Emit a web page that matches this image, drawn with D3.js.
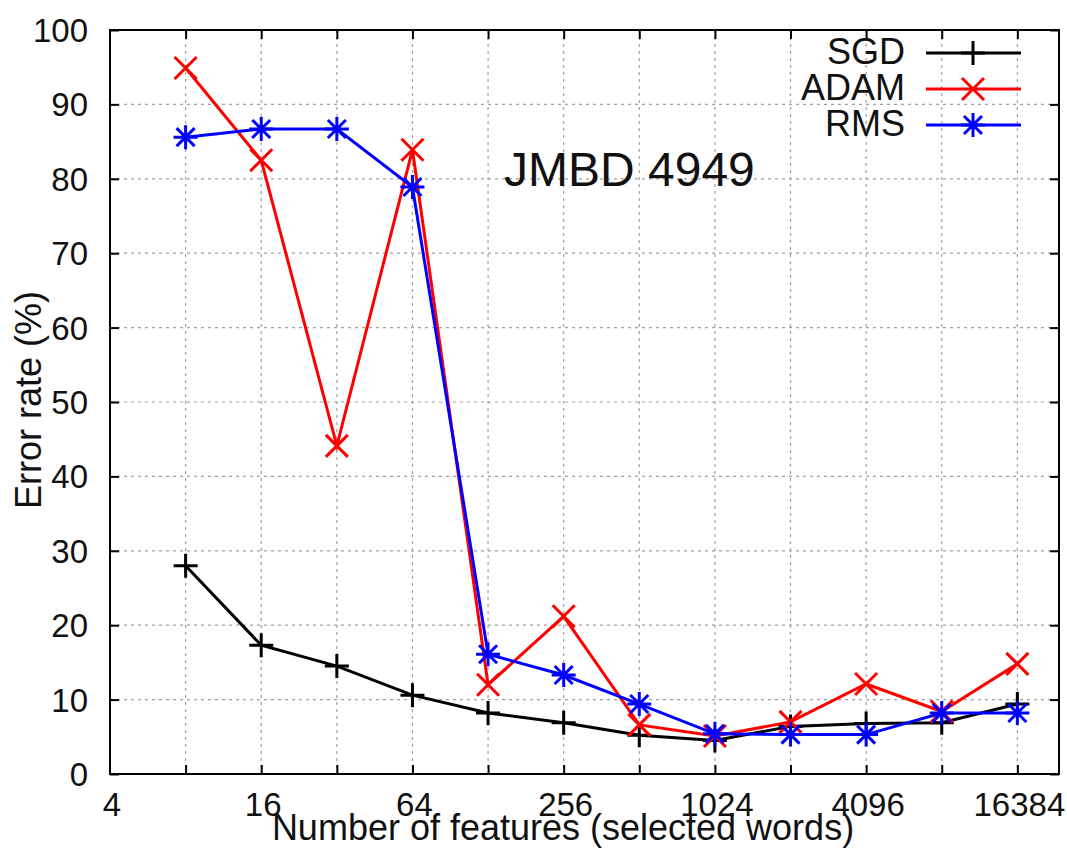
<html>
  <head>
    <title>JMBD 4949 error rate</title>
    <script src="https://d3js.org/d3.v7.min.js"></script>
    <style>
      body { margin: 0; background: #fff; }
      text { font-family: "Liberation Sans", Arial, sans-serif; }
    </style>
  </head>
  <body>
    <svg width="1067" height="848" id="chart"></svg>
  </body>

  <script type="text/javascript">
    // values
    var features = [8, 16, 32, 64, 128, 256, 512, 1024, 2048, 4096, 8192, 16384];
    var sgd  = [28.0, 17.3, 14.5, 10.6, 8.2, 6.9, 5.2, 4.5, 6.4, 6.8, 6.9, 9.4];
    var adam = [94.9, 82.5, 44.1, 83.9, 12.0, 21.2, 6.6, 5.1, 7.0, 12.1, 8.4, 14.8];
    var rms  = [85.6, 86.7, 86.7, 78.9, 16.1, 13.3, 9.4, 5.4, 5.3, 5.3, 8.2, 8.2];
    var xTickLabels = [4, 16, 64, 256, 1024, 4096, 16384];
    var xGridTicks = [8, 16, 32, 64, 128, 256, 512, 1024, 2048, 4096, 8192, 16384];
    var yTicks = [0, 10, 20, 30, 40, 50, 60, 70, 80, 90, 100];

    var series = [
      {name: "SGD",  values: sgd,  color: "#000000", marker: "plus"},
      {name: "ADAM", values: adam, color: "#ff0000", marker: "cross"},
      {name: "RMS",  values: rms,  color: "#0000ff", marker: "star"}
    ];

    var plotL = 110, plotR = 1059, plotT = 30, plotB = 774;

    var x = d3.scaleLog().base(2).domain([4, 24000]).range([plotL, plotR]);
    var y = d3.scaleLinear().domain([0, 100]).range([plotB, plotT]);

    var svg = d3.select("#chart");

    // grid
    var grid = svg.append("g")
        .attr("stroke", "#a0a0a0")
        .attr("stroke-width", 1.2)
        .attr("stroke-dasharray", "3,4");
    grid.selectAll(".gx").data(xGridTicks).enter().append("line")
        .attr("x1", function(d){ return x(d); }).attr("x2", function(d){ return x(d); })
        .attr("y1", plotT).attr("y2", plotB);
    grid.selectAll(".gy").data(yTicks.slice(1, -1)).enter().append("line")
        .attr("x1", plotL).attr("x2", plotR)
        .attr("y1", function(d){ return y(d); }).attr("y2", function(d){ return y(d); });

    // axes with inward ticks on all four sides
    var tickLen = 9;
    var axB = d3.axisBottom(x).tickValues(xGridTicks).tickSizeInner(-tickLen).tickSizeOuter(0).tickFormat("");
    var axT = d3.axisTop(x).tickValues(xGridTicks).tickSizeInner(-tickLen).tickSizeOuter(0).tickFormat("");
    var axL = d3.axisLeft(y).tickValues(yTicks).tickSizeInner(-tickLen).tickSizeOuter(0).tickFormat("");
    var axR = d3.axisRight(y).tickValues(yTicks).tickSizeInner(-tickLen).tickSizeOuter(0).tickFormat("");

    [[axB, "translate(0," + plotB + ")"], [axT, "translate(0," + plotT + ")"],
     [axL, "translate(" + plotL + ",0)"], [axR, "translate(" + plotR + ",0)"]].forEach(function(a){
      var g = svg.append("g").attr("transform", a[1]).call(a[0]);
      g.selectAll("path").attr("stroke", "none");
      g.selectAll("line").attr("stroke", "#000").attr("stroke-width", 2);
    });

    svg.append("rect")
        .attr("x", plotL).attr("y", plotT)
        .attr("width", plotR - plotL).attr("height", plotB - plotT)
        .attr("fill", "none").attr("stroke", "#000").attr("stroke-width", 2);

    // tick labels
    svg.selectAll(".yl").data(yTicks).enter().append("text")
        .attr("x", 88).attr("y", function(d){ return y(d) + 12; })
        .attr("text-anchor", "end").attr("font-size", 33).attr("fill", "#111")
        .text(function(d){ return d; });

    svg.selectAll(".xl").data(xTickLabels).enter().append("text")
        .attr("x", function(d){ return x(d) + 2; }).attr("y", 816)
        .attr("text-anchor", "middle").attr("font-size", 33).attr("fill", "#111")
        .text(function(d){ return d; });

    // axis titles
    svg.append("text")
        .attr("x", 563).attr("y", 840)
        .attr("text-anchor", "middle").attr("font-size", 36).attr("fill", "#111")
        .text("Number of features (selected words)");

    svg.append("text")
        .attr("transform", "translate(41,400) rotate(-90)")
        .attr("text-anchor", "middle").attr("font-size", 36).attr("fill", "#111")
        .text("Error rate (%)");

    // chart title
    svg.append("text")
        .attr("x", 504).attr("y", 186)
        .attr("font-family", "'DejaVu Sans', sans-serif")
        .attr("font-size", 48).attr("fill", "#111")
        .text("JMBD 4949");

    // markers
    function markerPath(type, cx, cy) {
      var p = d3.path(), s = 12, c = 11;
      if (type === "plus" || type === "star") {
        p.moveTo(cx - s, cy); p.lineTo(cx + s, cy);
        p.moveTo(cx, cy - s); p.lineTo(cx, cy + s);
      }
      if (type === "cross" || type === "star") {
        var k = type === "star" ? 9 : c;
        p.moveTo(cx - k, cy - k); p.lineTo(cx + k, cy + k);
        p.moveTo(cx - k, cy + k); p.lineTo(cx + k, cy - k);
      }
      return p.toString();
    }

    var line = d3.line()
        .x(function(d, i){ return x(features[i]); })
        .y(function(d){ return y(d); });

    series.forEach(function(s){
      var g = svg.append("g");
      g.append("path")
          .attr("d", line(s.values))
          .attr("fill", "none")
          .attr("stroke", s.color)
          .attr("stroke-width", 3);
      g.selectAll(".m").data(s.values).enter().append("path")
          .attr("d", function(d, i){ return markerPath(s.marker, x(features[i]), y(d)); })
          .attr("stroke", s.color)
          .attr("stroke-width", 3)
          .attr("fill", "none");
    });

    // legend
    var legend = svg.append("g");
    series.forEach(function(s, i){
      var ly = 53 + i * 36;
      legend.append("text")
          .attr("x", 905).attr("y", ly + 11)
          .attr("text-anchor", "end").attr("font-size", 36).attr("fill", "#111")
          .text(s.name);
      legend.append("line")
          .attr("x1", 926).attr("x2", 1021).attr("y1", ly).attr("y2", ly)
          .attr("stroke", s.color).attr("stroke-width", 3);
      legend.append("path")
          .attr("d", markerPath(s.marker, 973, ly))
          .attr("stroke", s.color).attr("stroke-width", 3).attr("fill", "none");
    });
  </script>
</html>
